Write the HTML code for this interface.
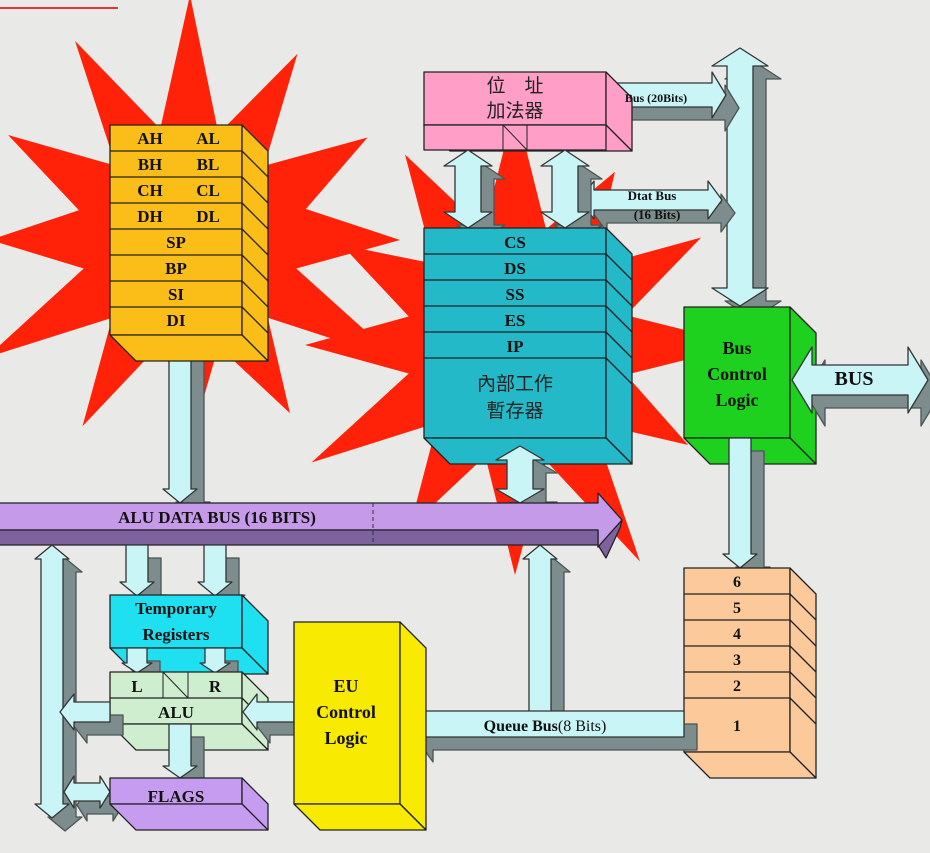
<!DOCTYPE html>
<html><head><meta charset="utf-8"><style>
html,body{margin:0;padding:0;background:#e9e9e7;}
svg{display:block}
text{font-family:"Liberation Serif","Noto Serif CJK SC",serif;font-weight:bold;fill:#111;text-anchor:middle}
.cjk{font-family:"Liberation Serif","Noto Sans CJK TC",sans-serif;font-weight:normal;fill:#222}
</style></head><body>
<svg id="s" width="930" height="853" viewBox="0 0 930 853" xmlns="http://www.w3.org/2000/svg">
<rect width="930" height="853" fill="#e9e9e7"/>
<line x1="0" y1="8" x2="118" y2="8" stroke="#e33" stroke-width="2"/>
<g id="g"></g>
<g id="t">
<text x="150" y="144" font-size="17">AH</text><text x="208" y="144" font-size="17">AL</text>
<text x="150" y="170" font-size="17">BH</text><text x="208" y="170" font-size="17">BL</text>
<text x="150" y="196" font-size="17">CH</text><text x="208" y="196" font-size="17">CL</text>
<text x="150" y="222" font-size="17">DH</text><text x="208" y="222" font-size="17">DL</text>
<text x="176" y="248" font-size="17">SP</text>
<text x="176" y="274" font-size="17">BP</text>
<text x="176" y="300" font-size="17">SI</text>
<text x="176" y="326" font-size="17">DI</text>
<text class="cjk" x="515" y="92" font-size="19">位　址</text>
<text class="cjk" x="515" y="117" font-size="19">加法器</text>
<text x="656" y="102" font-size="12">Bus (20Bits)</text>
<text x="652" y="200" font-size="13">Dtat Bus</text>
<text x="657" y="219" font-size="13">(16 Bits)</text>
<text x="515" y="248" font-size="17">CS</text>
<text x="515" y="274" font-size="17">DS</text>
<text x="515" y="300" font-size="17">SS</text>
<text x="515" y="326" font-size="17">ES</text>
<text x="515" y="352" font-size="17">IP</text>
<text class="cjk" x="515" y="390" font-size="19">內部工作</text>
<text class="cjk" x="515" y="417" font-size="19">暫存器</text>
<text x="737" y="354" font-size="18">Bus</text>
<text x="737" y="380" font-size="18">Control</text>
<text x="737" y="406" font-size="18">Logic</text>
<text x="854" y="385" font-size="20">BUS</text>
<text x="217" y="523" font-size="17">ALU DATA BUS (16 BITS)</text>
<text x="176" y="614" font-size="17">Temporary</text>
<text x="176" y="640" font-size="17">Registers</text>
<text x="137" y="692" font-size="17">L</text>
<text x="215" y="692" font-size="17">R</text>
<text x="176" y="718" font-size="17">ALU</text>
<text x="176" y="802" font-size="17">FLAGS</text>
<text x="346" y="692" font-size="18">EU</text>
<text x="346" y="718" font-size="18">Control</text>
<text x="346" y="744" font-size="18">Logic</text>
<text x="545" y="731" font-size="16">Queue  Bus<tspan font-weight="normal">(8 Bits)</tspan></text>
<text x="737" y="587" font-size="16">6</text>
<text x="737" y="613" font-size="16">5</text>
<text x="737" y="639" font-size="16">4</text>
<text x="737" y="665" font-size="16">3</text>
<text x="737" y="691" font-size="16">2</text>
<text x="737" y="731" font-size="16">1</text>
</g>
</svg>
<script>
var g=document.getElementById('g'),NS='http://www.w3.org/2000/svg';
function el(n,a){var e=document.createElementNS(NS,n);for(var k in a)e.setAttribute(k,a[k]);g.appendChild(e);return e;}
function poly(p,f,s){el('polygon',{points:p.map(function(q){return q[0]+','+q[1]}).join(' '),fill:f,stroke:s||'#222','stroke-width':1.3,'stroke-linejoin':'round'});}
function star(cx,cy,r){var p=[],n=r.length;for(var i=0;i<n;i++){var a=i/n*2*Math.PI-Math.PI/2;p.push([cx+r[i]*Math.cos(a),cy+r[i]*Math.sin(a)]);}poly(p,'#ff2208','none');}
star(190,240,[245,110,215,105,205,120,210,110,240,110,200,110,205,105,215,110,235,110,200,115,210,105,230,115]);
star(515,345,[240,120,200,110,215,115,230,115,200,110,250,120,230,115,210,110,235,110,210,110,200,115,220,120]);
function box(x,y,w,h,d,c,rows,cols){
 poly([[x,y],[x+w,y],[x+w,y+h],[x,y+h]],c);
 poly([[x+w,y],[x+w+d,y+d],[x+w+d,y+h+d],[x+w,y+h]],c);
 poly([[x,y+h],[x+w,y+h],[x+w+d,y+h+d],[x+d,y+h+d]],c);
 (rows||[]).forEach(function(r){el('line',{x1:x,y1:r,x2:x+w,y2:r,stroke:'#222','stroke-width':1.3});el('line',{x1:x+w,y1:r,x2:x+w+d,y2:r+d,stroke:'#222','stroke-width':1.3});});
}
// arrow along axis
function arrow(x1,y1,x2,y2,w,hw,hl,two,fill){
 var dx=x2-x1,dy=y2-y1,L=Math.hypot(dx,dy),ux=dx/L,uy=dy/L,px=-uy,py=ux;
 function P(t,s){return [x1+ux*t+px*s,y1+uy*t+py*s];}
 var a=two?hl:0,pts=[];
 if(two){pts.push(P(0,0),P(hl,hw/2),P(hl,w/2));}else pts.push(P(0,w/2));
 pts.push(P(L-hl,w/2),P(L-hl,hw/2),P(L,0),P(L-hl,-hw/2),P(L-hl,-w/2));
 if(two){pts.push(P(hl,-w/2),P(hl,-hw/2));}else pts.push(P(0,-w/2));
 poly(pts.map(function(q){return [q[0]+13,q[1]+13]}),'#7d8c8c','#4a5555');
 poly(pts,fill||'#c9f5f6','#333');
}
// top right area
arrow(740,48,740,306,26,56,18,true);
arrow(604,95,726,95,24,46,14,false);
arrow(580,200,722,200,20,38,14,true);
box(424,72,182,53,26,'#ff9ec6',[]);
poly([[424,125],[606,125],[606,150],[424,150]],'#ff9ec6');
el('line',{x1:503,y1:125,x2:503,y2:150,stroke:'#222'});el('line',{x1:527,y1:125,x2:527,y2:150,stroke:'#222'});
el('line',{x1:503,y1:125,x2:527,y2:150,stroke:'#222'});
arrow(468,150,468,228,26,48,16,true);
arrow(565,150,565,228,26,48,16,true);
box(424,228,182,210,26,'#23b9c8',[254,280,306,332,358]);
box(684,307,106,131,26,'#1fd11f',[]);
arrow(792,380,928,380,30,66,20,true);
arrow(740,438,740,568,22,34,14,false);
box(684,568,106,184,26,'#fbc99a',[594,620,646,672,698]);
// left star regs
arrow(180,334,180,503,22,34,14,true);
box(110,125,132,210,26,'#fbbd17',[151,177,203,229,255,281,307]);
arrow(520,446,520,503,26,48,14,true);
// vertical from queue bus up
arrow(540,724,540,545,22,34,14,false);
// ALU bus
poly([[-5,503],[598,503],[598,493],[622,520],[598,547],[598,530],[-5,530]],'#c59ae8');
poly([[-5,530],[598,530],[598,547],[622,520],[620,528],[606,558],[598,545],[-5,545]],'#7e62a0');
el('line',{x1:373,y1:503,x2:373,y2:545,stroke:'#333','stroke-dasharray':'4,3'});
// left bottom arrows
arrow(52,545,52,818,22,34,14,true);
arrow(137,545,137,596,22,34,14,false);
arrow(215,545,215,596,22,34,14,false);
box(110,595,132,53,26,'#1fe0f0',[]);
arrow(137,648,137,673,20,30,10,false);
arrow(215,648,215,673,20,30,10,false);
box(110,672,132,52,26,'#cfeecf',[698]);
el('line',{x1:163,y1:672,x2:163,y2:698,stroke:'#222'});el('line',{x1:188,y1:672,x2:188,y2:698,stroke:'#222'});
el('line',{x1:163,y1:672,x2:188,y2:698,stroke:'#222'});
arrow(110,712,60,712,20,36,14,false);
arrow(294,712,243,712,20,36,14,false);
arrow(180,724,180,778,22,34,12,false);
arrow(64,792,110,792,18,32,10,true);
box(110,778,132,26,26,'#c69cf0',[]);
arrow(684,724,402,724,26,50,18,false);
box(294,622,106,182,26,'#f8ea00',[]);
</script>
</body></html>
